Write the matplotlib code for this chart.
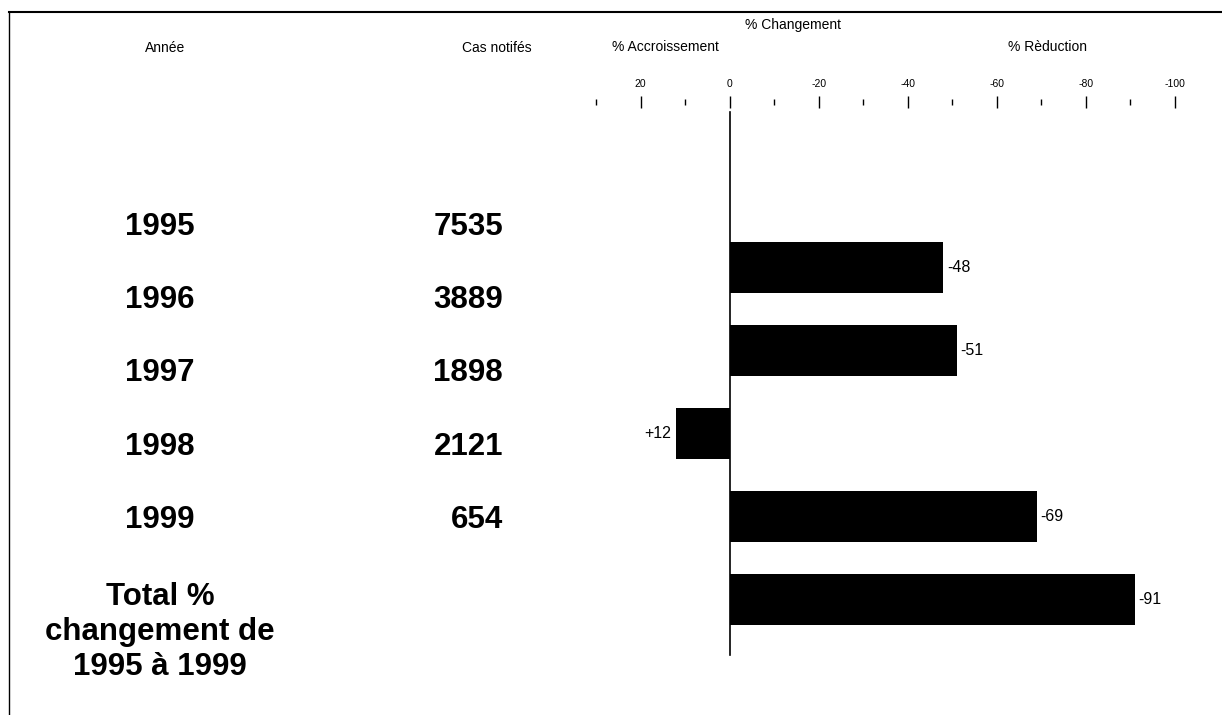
import matplotlib
matplotlib.use('Agg')
import matplotlib.pyplot as plt
from matplotlib.lines import Line2D

plt.rcParams['font.family'] = ['Liberation Sans', 'DejaVu Sans']

# Data
years = ['1995', '1996', '1997', '1998', '1999']
cases = [7535, 3889, 1898, 2121, 654]
change_labels = ['1995-96', '1996-97', '1997-98', '1998-99', 'Total']
pct_change = [-48, -51, 12, -69, -91]
value_text = ['-48', '-51', '+12', '-69', '-91']
major_ticks = [20, 0, -20, -40, -60, -80, -100]
minor_ticks = [30, 10, -10, -30, -50, -70, -90]

W, H = 1222, 715


def fx(px):
    return px / W


def fy(py):
    return 1 - py / H


def main():
    fig = plt.figure(figsize=(W / 100, H / 100), dpi=100)

    # bar axes: x value 30 at px 596, -100 at px 1175; top spine at py 102
    top_px, bot_px = 102, 700
    ax = fig.add_axes([fx(596), fy(bot_px), fx(1175) - fx(596),
                       (bot_px - top_px) / H])
    pitch, first = 83.0, 267.5
    ax.set_xlim(30, -100)
    ax.set_ylim((bot_px - first) / pitch, (top_px - first) / pitch)

    pos = list(range(len(pct_change)))
    ax.barh(pos, pct_change, height=51 / pitch, color='black')

    # zero line
    ax.plot([0, 0], [(112 - first) / pitch, (655 - first) / pitch],
            color='black', lw=1.2, clip_on=False)

    for p, v, t in zip(pos, pct_change, value_text):
        if v < 0:
            ax.text(v - 0.8, p, t, ha='left', va='center', fontsize=11.5)
        else:
            ax.text(v + 1.2, p, t, ha='right', va='center', fontsize=11.5)

    for s in ax.spines.values():
        s.set_visible(False)
    ax.xaxis.tick_top()
    ax.set_xticks(major_ticks)
    ax.set_xticklabels([str(t) for t in major_ticks])
    ax.set_xticks(minor_ticks, minor=True)
    ax.tick_params(axis='x', which='major', direction='inout', length=9,
                   width=1, pad=5, labelsize=7.5)
    ax.tick_params(axis='x', which='minor', direction='inout', length=4,
                   width=1)
    ax.set_yticks([])

    # headers
    fig.text(fx(793), fy(25), '% Changement', ha='center', va='center',
             fontsize=10)
    fig.text(fx(665), fy(47), '% Accroissement', ha='center', va='center',
             fontsize=10)
    fig.text(fx(1047), fy(47), '% Rèduction', ha='center', va='center',
             fontsize=10)
    fig.text(fx(165), fy(48), 'Année', ha='center', va='center', fontsize=10)
    fig.text(fx(497), fy(48), 'Cas notifés', ha='center', va='center',
             fontsize=10)

    # table of years and cases
    ys = [227, 300, 373, 447, 520]
    for yr, c, py in zip(years, cases, ys):
        fig.text(fx(160), fy(py), yr, ha='center', va='center',
                 fontsize=22.5, fontweight='bold')
        fig.text(fx(503), fy(py), str(c), ha='right', va='center',
                 fontsize=22.5, fontweight='bold')
    fig.text(fx(160), fy(632), 'Total %\nchangement de\n1995 à 1999',
             ha='center', va='center', fontsize=22.5, fontweight='bold',
             linespacing=1.2)

    # frame lines
    fig.add_artist(Line2D([fx(9), 1], [fy(12), fy(12)], color='black',
                          lw=1.5))
    fig.add_artist(Line2D([fx(9), fx(9)], [fy(12), 0], color='black',
                          lw=1.0))

    fig.savefig('out.png', dpi=100)


if __name__ == '__main__':
    main()
